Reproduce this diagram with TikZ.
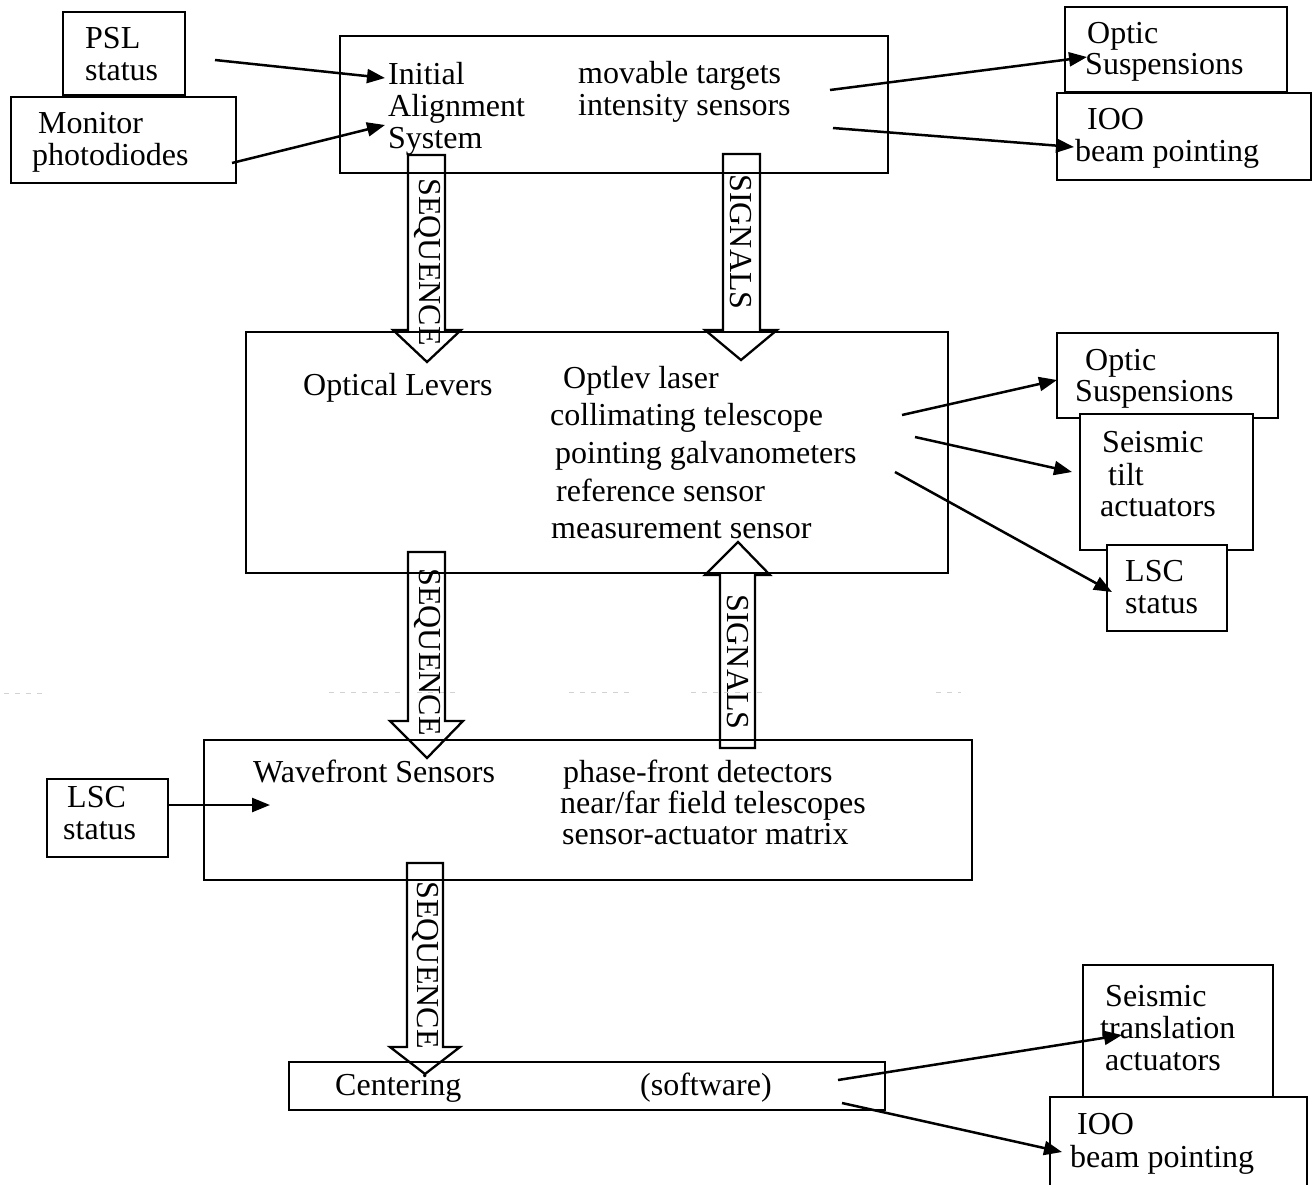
\documentclass[tikz,border=0pt]{standalone}
\usepackage{fontspec}
\setmainfont{Liberation Serif}
\usetikzlibrary{arrows.meta,fit}
\begin{document}
\begin{tikzpicture}[x=1pt,y=-1pt,
  box/.style={draw,line width=2.8pt,fill=white,inner sep=0pt},
  txt/.style={anchor=base west,inner sep=0pt,font=\fontsize{32}{38}\selectfont},
  arr/.style={line width=2.5pt,-{Triangle[length=18pt,width=14pt]}},
  blk/.style={draw,line width=2.3pt,line join=miter},
  btxt/.style={rotate=-90,inner sep=0pt,font=\fontsize{32}{38}\selectfont},
  faint/.style={gray!35,line width=1pt,dash pattern=on 5pt off 6pt}]
\useasboundingbox (0,0) rectangle (1315,1184);
\fill[white] (0,0) rectangle (1315,1184);
\newcommand{\bx}[5]{\node[box,fit={(#2,#3) (#4,#5)}] (#1) {};}
% faint scan line
\draw[faint] (4,693) -- (42,693);
\draw[faint] (329,692) -- (405,692);
\draw[faint] (417,692) -- (460,692);
\draw[faint] (569,692) -- (632,692);
\draw[faint] (691,692) -- (767,692);
\draw[faint] (936,692) -- (961,692);
% boxes
\bx{psl}{63}{12}{185}{95}
\bx{mon}{11}{97}{236}{183}
\bx{ias}{340}{36}{888}{173}
\bx{osa}{1065}{7}{1287}{92}
\bx{iooa}{1057}{93}{1311}{180}
\bx{optlev}{246}{332}{948}{573}
\bx{osb}{1057}{333}{1278}{418}
\bx{tilt}{1080}{414}{1253}{550}
\bx{lscb}{1107}{545}{1227}{631}
\bx{wfs}{204}{740}{972}{880}
\bx{lscc}{47}{779}{168}{857}
\bx{cent}{289}{1062}{885}{1110}
\bx{trans}{1083}{965}{1273}{1103}
\bx{ioob}{1050}{1097}{1307}{1190}
% texts
\node[txt] (t1) at (85,48) {PSL};
\node[txt] (t2) at (85,80) {status};
\node[txt] (t3) at (38,133) {Monitor};
\node[txt] (t4) at (32,165) {photodiodes};
\node[txt] (t5) at (388,84) {Initial};
\node[txt] (t6) at (388,116) {Alignment};
\node[txt] (t7) at (388,148) {System};
\node[txt] (t8) at (578,83) {movable targets};
\node[txt] (t9) at (578,115) {intensity sensors};
\node[txt] (t10) at (1087,43) {Optic};
\node[txt] (t11) at (1085,74) {Suspensions};
\node[txt] (t12) at (1087,129) {IOO};
\node[txt] (t13) at (1075,161) {beam pointing};
\node[txt] (t14) at (303,395) {Optical Levers};
\node[txt] (t15) at (563,388) {Optlev laser};
\node[txt] (t16) at (550,425) {collimating telescope};
\node[txt] (t17) at (555,463) {pointing galvanometers};
\node[txt] (t18) at (556,501) {reference sensor};
\node[txt] (t19) at (551,538) {measurement sensor};
\node[txt] (t20) at (1085,370) {Optic};
\node[txt] (t21) at (1075,401) {Suspensions};
\node[txt] (t22) at (1102,452) {Seismic};
\node[txt] (t23) at (1108,485) {tilt};
\node[txt] (t24) at (1100,516) {actuators};
\node[txt] (t25) at (1125,581) {LSC};
\node[txt] (t26) at (1125,613) {status};
\node[txt] (t27) at (253,782) {Wavefront Sensors};
\node[txt] (t28) at (563,782) {phase-front detectors};
\node[txt] (t29) at (560,813) {near/far field telescopes};
\node[txt] (t30) at (562,844) {sensor-actuator matrix};
\node[txt] (t31) at (67,807) {LSC};
\node[txt] (t32) at (63,839) {status};
\node[txt] (t33) at (335,1095) {Centering};
\node[txt] (t34) at (640,1095) {(software)};
\node[txt] (t35) at (1105,1006) {Seismic};
\node[txt] (t36) at (1100,1038) {translation};
\node[txt] (t37) at (1105,1070) {actuators};
\node[txt] (t38) at (1077,1134) {IOO};
\node[txt] (t39) at (1070,1167) {beam pointing};
% block arrows
\draw[blk] (408,155) -- (408,330) -- (393,330) -- (427,362) -- (461,330) -- (445,330) -- (445,155) -- cycle;
\node[btxt] (seqa) at (427,262) {SEQUENCE};
\draw[blk] (723,154) -- (723,330) -- (705,330) -- (741,360) -- (777,330) -- (760,330) -- (760,154) -- cycle;
\node[btxt] (siga) at (741,242) {SIGNALS};
\draw[blk] (408,552) -- (408,721) -- (390,721) -- (427,758) -- (463,721) -- (445,721) -- (445,552) -- cycle;
\node[btxt] (seqb) at (427,652) {SEQUENCE};
\draw[blk] (720,748) -- (720,575) -- (705,575) -- (738,542) -- (770,575) -- (755,575) -- (755,748) -- cycle;
\node[btxt] (sigb) at (738,662) {SIGNALS};
\draw[blk] (407,863) -- (407,1047) -- (390,1047) -- (425,1074) -- (460,1047) -- (443,1047) -- (443,863) -- cycle;
\node[btxt] (seqc) at (425,965) {SEQUENCE};
% connector ends
\coordinate (p1) at (215,60);   \coordinate (q1) at (385,78);
\coordinate (p2) at (232,163);  \coordinate (q2) at (385,125);
\coordinate (p3) at (830,90);   \coordinate (q3) at (1087,57);
\coordinate (p4) at (833,128);  \coordinate (q4) at (1074,147);
\coordinate (p5) at (902,415);  \coordinate (q5) at (1057,380);
\coordinate (p6) at (915,437);  \coordinate (q6) at (1072,472);
\coordinate (p7) at (895,472);  \coordinate (q7) at (1112,592);
\coordinate (p8) at (168,805);  \coordinate (q8) at (270,805);
\coordinate (p9) at (838,1080); \coordinate (q9) at (1122,1035);
\coordinate (p10) at (842,1103); \coordinate (q10) at (1062,1152);
\draw[arr] (p1) -- (q1);
\draw[arr] (p2) -- (q2);
\draw[arr] (p3) -- (q3);
\draw[arr] (p4) -- (q4);
\draw[arr] (p5) -- (q5);
\draw[arr] (p6) -- (q6);
\draw[arr] (p7) -- (q7);
\draw[arr] (p8) -- (q8);
\draw[arr] (p9) -- (q9);
\draw[arr] (p10) -- (q10);
\end{tikzpicture}
\end{document}
